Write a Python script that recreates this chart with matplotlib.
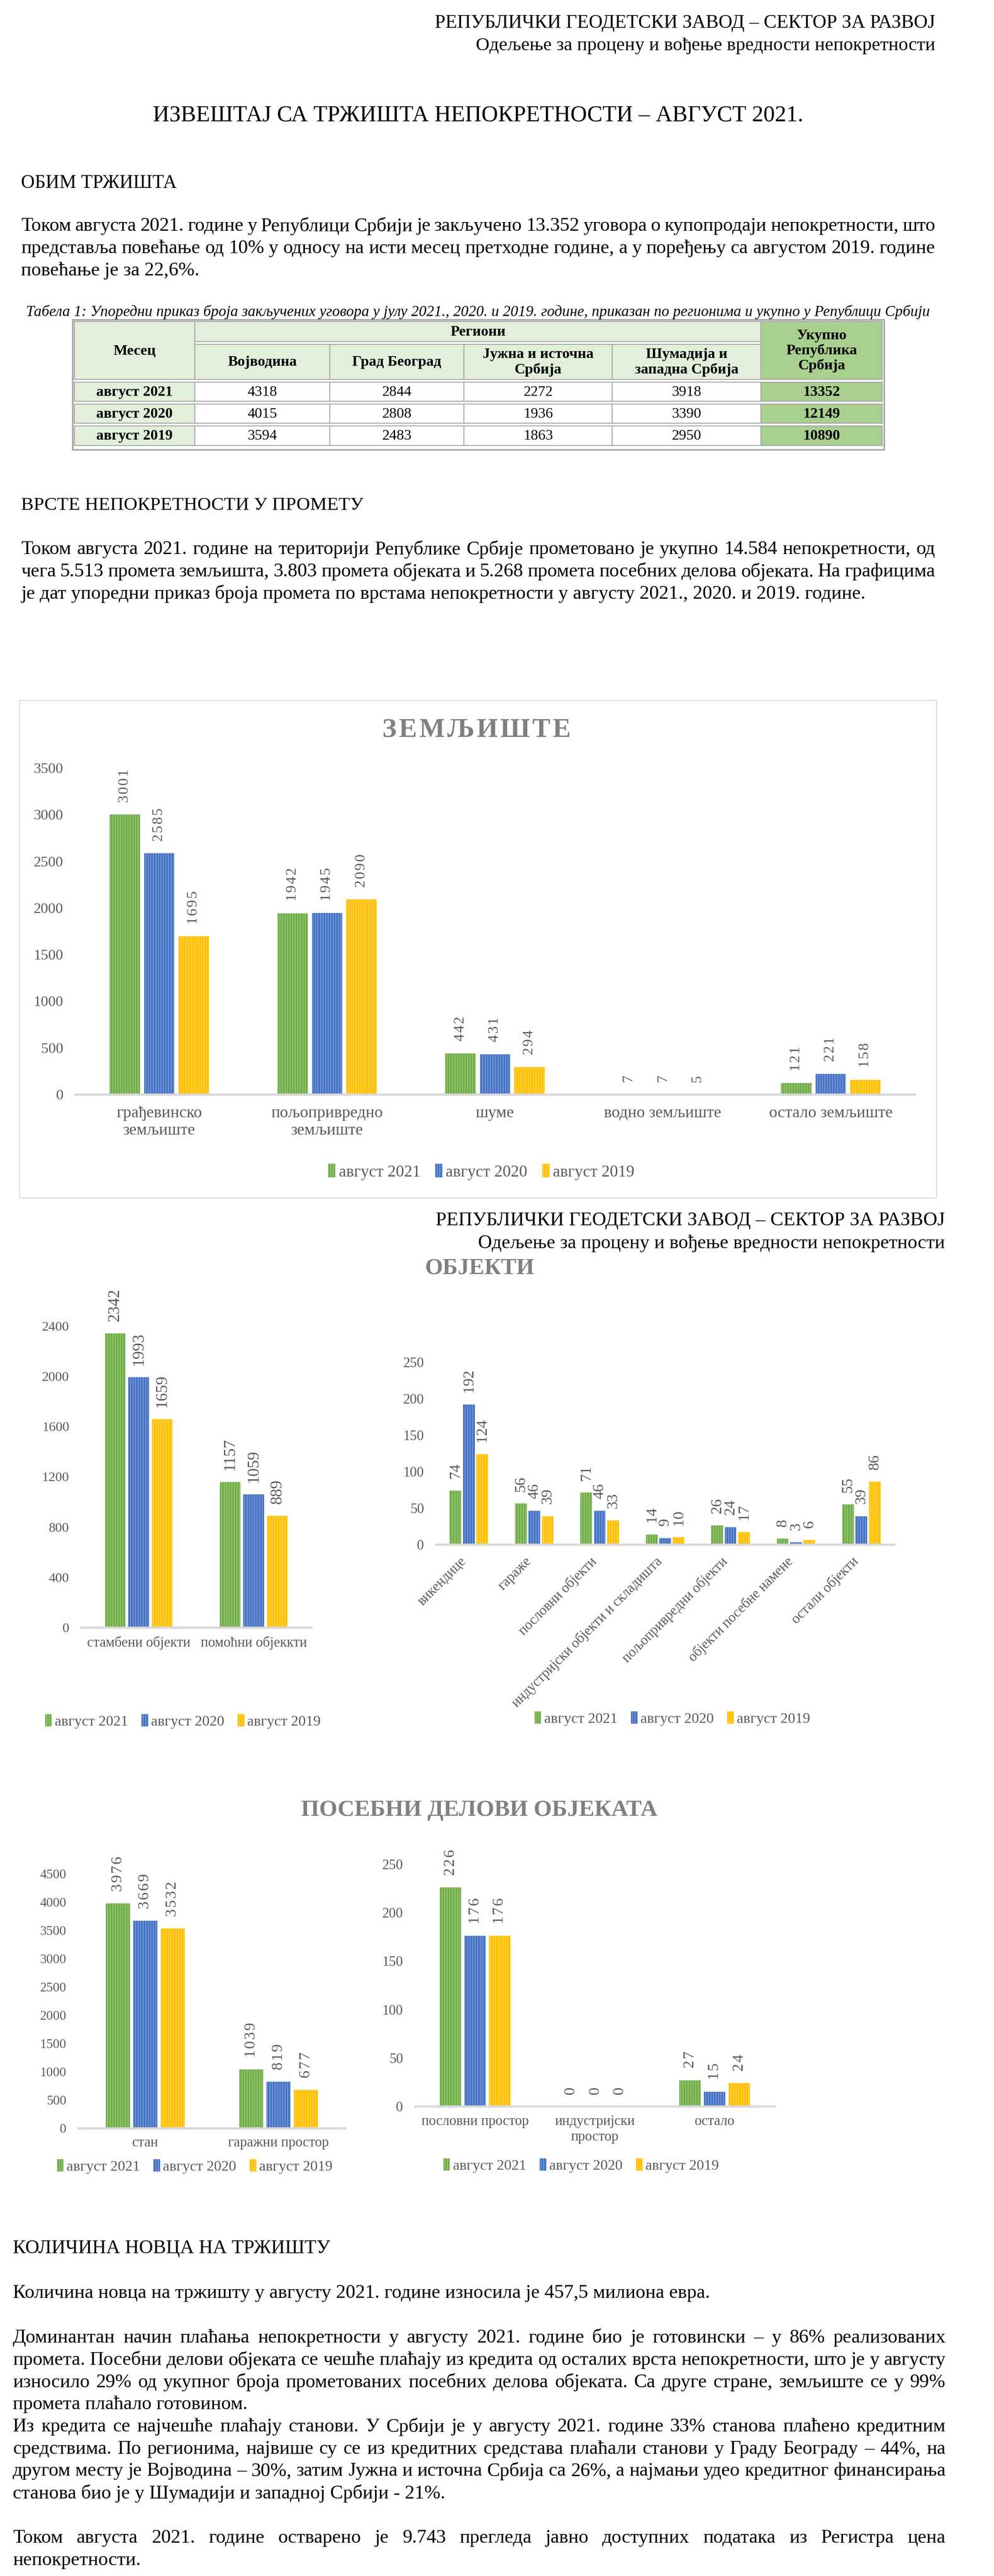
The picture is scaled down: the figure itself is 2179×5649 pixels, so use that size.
import matplotlib
matplotlib.use('Agg')
import matplotlib.pyplot as plt
from matplotlib.patches import Rectangle
import numpy as np

W, H = 2179, 5649
DPI = 100
K = 2.6  # document points -> matplotlib points at this dpi

plt.rcParams['font.family'] = ['Liberation Serif', 'DejaVu Serif']
plt.rcParams['hatch.linewidth'] = 1.0

GRAY = '#595959'
TITLE_GRAY = '#808080'
SERIES = ['август 2021', 'август 2020', 'август 2019']
COLORS = ['#70AD47', '#4472C4', '#FFC000']
STRIPES = ['#A9D18E', '#8FAADC', '#FFD966']
HAIR = '\u200a'

# ── Table 1 data ───────────────────────────────────────────────────────
months = ['август 2021', 'август 2020', 'август 2019']
regions = ['Војводина', 'Град Београд', 'Јужна и источна\nСрбија', 'Шумадија и\nзападна Србија']
region_vals = [[4318, 2844, 2272, 3918],
               [4015, 2808, 1936, 3390],
               [3594, 2483, 1863, 2950]]
totals = [13352, 12149, 10890]

# ── Земљиште ───────────────────────────────────────────────────────────
land_cats = ['грађевинско\nземљиште', 'пољопривредно\nземљиште', 'шуме',
             'водно земљиште', 'остало земљиште']
land_2021 = [3001, 1942, 442, 7, 121]
land_2020 = [2585, 1945, 431, 7, 221]
land_2019 = [1695, 2090, 294, 5, 158]

# ── Објекти ────────────────────────────────────────────────────────────
obj_a_cats = ['стамбени објекти', 'помоћни објеккти']
obj_a_2021 = [2342, 1157]
obj_a_2020 = [1993, 1059]
obj_a_2019 = [1659, 889]

obj_b_cats = ['викендице', 'гараже', 'пословни објекти',
              'индустријски објекти и складишта', 'пољопривредни објекти',
              'објекти посебне намене', 'остали објекти']
obj_b_2021 = [74, 56, 71, 14, 26, 8, 55]
obj_b_2020 = [192, 46, 46, 9, 24, 3, 39]
obj_b_2019 = [124, 39, 33, 10, 17, 6, 86]

# ── Посебни делови објеката ────────────────────────────────────────────
pd_a_cats = ['стан', 'гаражни простор']
pd_a_2021 = [3976, 1039]
pd_a_2020 = [3669, 819]
pd_a_2019 = [3532, 677]

pd_b_cats = ['пословни простор', 'индустријски\nпростор', 'остало']
pd_b_2021 = [226, 0, 27]
pd_b_2020 = [176, 0, 15]
pd_b_2019 = [176, 0, 24]

# ── Text ───────────────────────────────────────────────────────────────
head1 = 'РЕПУБЛИЧКИ ГЕОДЕТСКИ ЗАВОД – СЕКТОР ЗА РАЗВОЈ'
head2 = 'Одељење за процену и вођење вредности непокретности'
title = 'ИЗВЕШТАЈ СА ТРЖИШТА НЕПОКРЕТНОСТИ – АВГУСТ 2021.'
caption = ('Табела 1: Упоредни приказ броја закључених уговора у јулу 2021., 2020. и 2019. '
           'године, приказан по регионима и укупно у Републици Србији')
par1 = ['Током августа 2021. године у Републици Србији је закључено 13.352 уговора о купопродаји непокретности, што',
        'представља повећање од 10% у односу на исти месец претходне године, а у поређењу са августом 2019. године',
        'повећање је за 22,6%.']
par2 = ['Током августа 2021. године на територији Републике Србије прометовано је укупно 14.584 непокретности, од',
        'чега 5.513 промета земљишта, 3.803 промета објеката и 5.268 промета посебних делова објеката. На графицима',
        'је дат упоредни приказ броја промета по врстама непокретности у августу 2021., 2020. и 2019. године.']
par3 = ['Количина новца на тржишту у августу 2021. године износила је 457,5 милиона евра.']
par4 = ['Доминантан начин плаћања непокретности у августу 2021. године био је готовински – у 86% реализованих',
        'промета. Посебни делови објеката се чешће плаћају из кредита од осталих врста непокретности, што је у августу',
        'износило 29% од укупног броја прометованих посебних делова објеката. Са друге стране, земљиште се у 99%',
        'промета плаћало готовином.',
        'Из кредита се најчешће плаћају станови. У Србији је у августу 2021. године 33% станова плаћено кредитним',
        'средствима. По регионима, највише су се из кредитних средстава плаћали станови у Граду Београду – 44%, на',
        'другом месту је Војводина – 30%, затим Јужна и источна Србија са 26%, а најмањи удео кредитног финансирања',
        'станова био је у Шумадији и западној Србији - 21%.']
par5 = ['Током августа 2021. године остварено је 9.743 прегледа јавно доступних података из Регистра цена',
        'непокретности.']

fig = plt.figure(figsize=(W / DPI, H / DPI), dpi=DPI, facecolor='white')
page = fig.add_axes([0, 0, 1, 1])
page.set_xlim(0, W)
page.set_ylim(H, 0)
page.axis('off')
renderer = fig.canvas.get_renderer()


def put(x, y, s, size=12, width=None, ha='left', va='center', **kw):
    t = page.text(x, y, s, fontsize=size * K, ha=ha, va=va, **kw)
    if width:
        w = t.get_window_extent(renderer).width
        t.set_fontsize(size * K * width / w)
    return t


# body font size fitted on an unjustified line
probe = put(28, 5029, par3[0], width=1531)
BODY = probe.get_fontsize()


def paragraph(x0, x1, y0, lines, lead=48.7, last=(), size=None):
    size = size or BODY
    for i, line in enumerate(lines):
        y = y0 + i * lead
        if i == len(lines) - 1 or i in last:
            page.text(x0, y, line, fontsize=size, ha='left', va='center')
            continue
        words = line.split(' ')
        ts = [page.text(0, y, w, fontsize=size, ha='left', va='center') for w in words]
        ws = [t.get_window_extent(renderer).width for t in ts]
        gap = (x1 - x0 - sum(ws)) / (len(words) - 1)
        x = x0
        for t, w in zip(ts, ws):
            t.set_x(x)
            x += w + gap


# ── Page header / title ───────────────────────────────────────────────
put(2050, 51, head1, width=1097, ha='right')
put(2050, 100, head2, width=1005, ha='right')
put(1048, 253, title, width=1429, ha='center')
put(46, 402, 'ОБИМ ТРЖИШТА', width=342)
paragraph(46, 2050, 496, par1)

# ── Table ─────────────────────────────────────────────────────────────
put(1048, 684, caption, width=1984, ha='center', style='italic')
cols = [163, 427, 723, 1017, 1342, 1668, 1934]
EDGE = '#A6A6A6'
HEAD_BG = '#E2EFDA'
TOT_BG = '#A9D08E'


def cell(x0, y0, x1, y1, fc, txt=None, bold=False):
    page.add_patch(Rectangle((x0, y0), x1 - x0, y1 - y0, fc=fc, ec=EDGE, lw=1.5))
    if txt is not None:
        page.text((x0 + x1) / 2, (y0 + y1) / 2 + 1, txt, ha='center', va='center',
                  fontsize=9 * K, fontweight='bold' if bold else 'normal',
                  linespacing=1.15)


page.add_patch(Rectangle((159, 701), 1779, 285, fc='none', ec=EDGE, lw=2.5))
cell(cols[0], 705, cols[1], 832, HEAD_BG, 'Месец', True)
cell(cols[1], 705, cols[5], 749, HEAD_BG, 'Региони', True)
for j, r in enumerate(regions):
    cell(cols[1 + j], 755, cols[2 + j], 832, HEAD_BG, r, True)
cell(cols[5], 705, cols[6], 832, TOT_BG, 'Укупно\nРепублика\nСрбија', True)
row_y = [(838, 880), (886, 928), (934, 977)]
for i, (y0, y1) in enumerate(row_y):
    cell(cols[0], y0, cols[1], y1, HEAD_BG, months[i], True)
    for j in range(4):
        cell(cols[1 + j], y0, cols[2 + j], y1, 'white', str(region_vals[i][j]))
    cell(cols[5], y0, cols[6], y1, TOT_BG, str(totals[i]), True)

put(46, 1108, 'ВРСТЕ НЕПОКРЕТНОСТИ У ПРОМЕТУ', width=749)
paragraph(46, 2050, 1205, par2)


# ── Charts ────────────────────────────────────────────────────────────
def chart(box, cats, vals, ymax, step, tick_size, val_size, cat_size,
          xpad, rot=0, legend=None, leg_size=9, spaced=False):
    x0, y0, x1, y1 = box
    ax = fig.add_axes([x0 / W, 1 - y1 / H, (x1 - x0) / W, (y1 - y0) / H])
    ax.set_facecolor('none')
    idx = np.arange(len(cats))
    for i, v in enumerate(vals):
        b = ax.bar(idx + (i - 1) * 0.205, v, 0.18, color=COLORS[i], edgecolor=STRIPES[i],
                   hatch='|||', linewidth=0, label=SERIES[i], zorder=2)
        labels = [HAIR.join(str(n)) if spaced else str(n) for n in v]
        ax.bar_label(b, labels=labels, rotation=90, padding=19,
                     fontsize=val_size * K, color=GRAY)
    ax.set_xlim(-0.5, len(cats) - 0.5)
    ax.set_ylim(0, ymax)
    ax.set_yticks(np.arange(0, ymax + 1, step))
    ax.set_xticks(idx)
    if rot:
        ax.set_xticklabels(cats, rotation=rot, ha='right')
    else:
        ax.set_xticklabels(cats)
    for lab in ax.get_xticklabels():
        lab.set_fontsize(cat_size * K)
    ax.tick_params(axis='y', length=0, pad=19, labelsize=tick_size * K, labelcolor=GRAY)
    ax.tick_params(axis='x', length=0, pad=xpad, labelcolor=GRAY)
    for s in ['top', 'left', 'right']:
        ax.spines[s].set_visible(False)
    ax.spines['bottom'].set_color('#D9D9D9')
    ax.spines['bottom'].set_linewidth(3.6)
    ax.spines['bottom'].set_zorder(3)
    if legend:
        ax.legend(loc='center', bbox_to_anchor=(legend[0] / W, 1 - legend[1] / H),
                  bbox_transform=fig.transFigure, ncol=3, frameon=False,
                  handlelength=0.45, handleheight=0.9, handletextpad=0.2,
                  columnspacing=0.9, fontsize=leg_size * K, labelcolor=GRAY)
    return ax


# Земљиште
page.add_patch(Rectangle((43, 1536), 2010, 1091, fc='none', ec='#D9D9D9', lw=1.5))
put(1045, 1601, HAIR.join('ЗЕМЉИШТЕ'), width=414, ha='center', fontweight='bold',
    color=TITLE_GRAY)
chart((165, 1684, 2005, 2400), land_cats, [land_2021, land_2020, land_2019],
      3500, 500, 9, 9, 10, xpad=18, legend=(1055, 2570), leg_size=10, spaced=True)

# second page header
put(2071, 2677, head1, width=1118, ha='right')
put(2071, 2727, head2, width=1025, ha='right')

# Објекти
put(1052, 2781, 'ОБЈЕКТИ', width=240, ha='center', fontweight='bold', color=TITLE_GRAY)
chart((178, 2908, 682, 3569), obj_a_cats, [obj_a_2021, obj_a_2020, obj_a_2019],
      2400, 400, 8.3, 10, 8.5, xpad=14, legend=(401, 3775))
chart((956, 2987, 1960, 3387), obj_b_cats, [obj_b_2021, obj_b_2020, obj_b_2019],
      250, 50, 8.5, 9.5, 8.5, xpad=16, rot=45, legend=(1474, 3769))

# Посебни делови објеката
put(1051, 3970, 'ПОСЕБНИ ДЕЛОВИ ОБЈЕКАТА', width=783, ha='center',
    fontweight='bold', color=TITLE_GRAY)
chart((172, 4109, 757, 4667), pd_a_cats, [pd_a_2021, pd_a_2020, pd_a_2019],
      4500, 500, 8, 9.5, 8.5, xpad=13, legend=(427, 4751), spaced=True)
chart((910, 4088, 1698, 4619), pd_b_cats, [pd_b_2021, pd_b_2020, pd_b_2019],
      250, 50, 8.5, 9.5, 8.5, xpad=14, legend=(1274, 4749), spaced=True)

# ── Количина новца ────────────────────────────────────────────────────
put(28, 4931, 'КОЛИЧИНА НОВЦА НА ТРЖИШТУ', width=697)
paragraph(28, 2073, 5127, par4, last=(3,))
paragraph(28, 2073, 5566, par5)

fig.savefig('out.png', dpi=DPI, facecolor='white')
